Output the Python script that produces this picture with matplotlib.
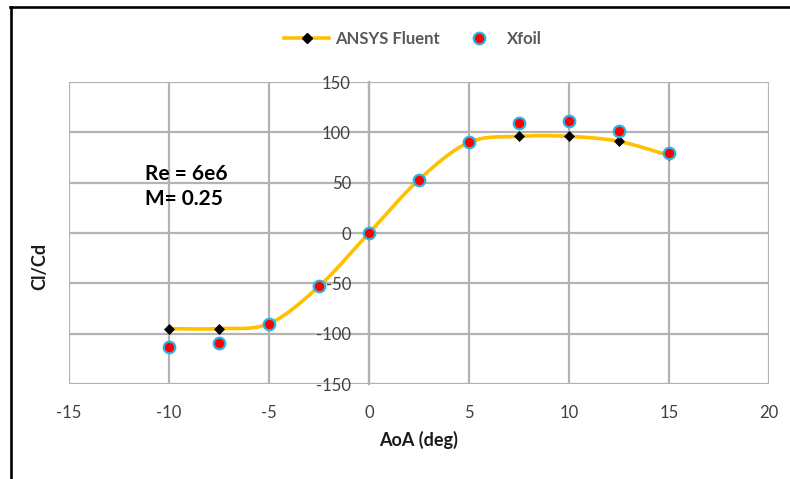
import numpy as np
import matplotlib
matplotlib.use("Agg")
import matplotlib.pyplot as plt
from matplotlib.lines import Line2D

plt.rcParams['font.family'] = ['Lato', 'DejaVu Sans']
plt.rcParams['axes.unicode_minus'] = False

# Angle of attack (deg)
aoa = [-10, -7.5, -5, -2.5, 0, 2.5, 5, 7.5, 10, 12.5, 15]
# Lift-to-drag ratio
fluent_clcd = [-95, -95, -90, -53, 0, 53, 90, 96, 96, 91, 77]
xfoil_clcd = [-113, -109, -90, -53, 0, 53, 90, 109, 111, 101, 79]

x_ticks = [-15, -10, -5, 0, 5, 10, 15, 20]
y_ticks = [-150, -100, -50, 0, 50, 100, 150]


def smooth_curve(xs, ys, n=40):
    """Catmull-Rom spline through the points (same as spreadsheet 'smoothed line')."""
    p = np.column_stack([xs, ys]).astype(float)
    p = np.vstack([p[0], p, p[-1]])
    out = []
    t = np.linspace(0, 1, n)[:, None]
    for i in range(1, len(p) - 2):
        p0, p1, p2, p3 = p[i - 1], p[i], p[i + 1], p[i + 2]
        seg = 0.5 * ((2 * p1) + (-p0 + p2) * t + (2 * p0 - 5 * p1 + 4 * p2 - p3) * t ** 2
                     + (-p0 + 3 * p1 - 3 * p2 + p3) * t ** 3)
        out.append(seg if i == 1 else seg[1:])
    out = np.vstack(out)
    return out[:, 0], out[:, 1]


W, H = 790, 479
fig = plt.figure(figsize=(W / 100, H / 100), dpi=100)
ax = fig.add_axes([69 / W, 1 - 384 / H, 700 / W, 302 / H])

grid_c = '#B3B3B3'
line_c = '#FFC000'

sx, sy = smooth_curve(aoa, fluent_clcd)
ax.plot(sx, sy, color=line_c, lw=2.6, solid_capstyle='round', zorder=3)
ax.plot(aoa, fluent_clcd, ls='none', marker='D', ms=4.8, mfc='black', mec='black',
        mew=0.5, zorder=4)
ax.plot(aoa, xfoil_clcd, ls='none', marker='o', ms=8.3, mfc='#FF0000', mec='#2BB3E6',
        mew=1.6, zorder=5)

ax.set_xlim(-15, 20)
ax.set_ylim(-150, 150)
ax.set_xticks(x_ticks)
ax.set_yticks(y_ticks)
ax.grid(True, color=grid_c, lw=1.6, zorder=0)
ax.set_axisbelow(True)

for s in ['top', 'right', 'bottom']:
    ax.spines[s].set_visible(False)
ax.spines['left'].set_position(('data', 0))
ax.spines['left'].set_color(grid_c)
ax.spines['left'].set_linewidth(1.6)

ax.tick_params(axis='both', length=0, labelsize=12, labelcolor='#404040')
ax.tick_params(axis='x', pad=15)
ax.tick_params(axis='y', pad=13)
for lab in ax.get_yticklabels():
    lab.set_zorder(6)

fig.text(419 / W, 1 - 440 / H, 'AoA (deg)', ha='center', va='center',
         fontsize=13, fontweight='bold', color='#1a1a1a')
fig.text(40 / W, 1 - 266 / H, 'Cl/Cd', ha='center', va='center', rotation=90,
         fontsize=13, fontweight='bold', color='#1a1a1a')

ax.text(-11.2, 59, 'Re = 6e6', ha='left', va='center', fontsize=15,
        fontweight='bold', color='black')
ax.text(-11.2, 34, 'M= 0.25', ha='left', va='center', fontsize=15,
        fontweight='bold', color='black')

handles = [
    Line2D([], [], color=line_c, lw=2.6, marker='D', ms=4.8, mfc='black', mec='black'),
    Line2D([], [], ls='none', marker='o', ms=8.3, mfc='#FF0000', mec='#2BB3E6', mew=1.6),
]
leg = fig.legend(handles, ['ANSYS Fluent', 'Xfoil'], loc='center',
                 bbox_to_anchor=(413 / W, 1 - 39 / H), ncol=2, frameon=False,
                 prop={'size': 12, 'weight': 'bold'}, handlelength=2.7,
                 handletextpad=0.35, columnspacing=1.0)
for t in leg.get_texts():
    t.set_color('#595959')

# Outer frame (top and left edges)
fig.add_artist(Line2D([10 / W, 1], [1 - 6.5 / H, 1 - 6.5 / H], color='black', lw=1.9,
                      transform=fig.transFigure))
fig.add_artist(Line2D([11 / W, 11 / W], [0, 1 - 6.5 / H], color='black', lw=1.9,
                      transform=fig.transFigure))

fig.savefig('out.png', dpi=100)
